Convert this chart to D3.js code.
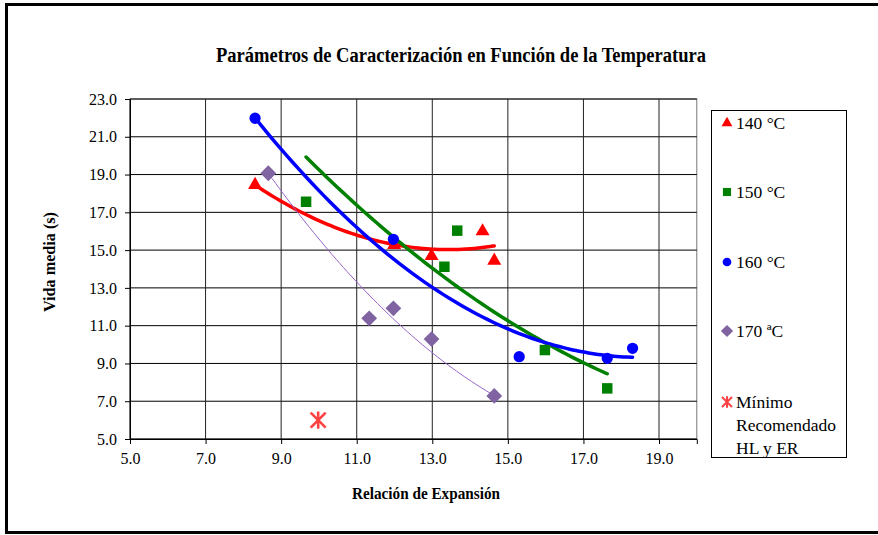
<!DOCTYPE html>
<html>
<head>
<meta charset="utf-8">
<script src="https://cdn.jsdelivr.net/npm/d3@7"></script>
<style>
  html, body { margin: 0; padding: 0; background: #fff; }
  svg { display: block; }
  svg text { font-family: "Liberation Serif", "Times New Roman", Times, serif; fill: #000; }
</style>
</head>
<body>
<svg id="chart" width="878" height="535"></svg>
<script>
// Series: expansion ratio (x) vs. half-life in seconds (y)
const serie140X = [8.31, 11.99, 12.98, 14.33, 14.64];
const serie140Y = [18.45, 15.27, 14.69, 16.0, 14.44];
const serie150X = [9.66, 13.32, 13.66, 15.98, 17.63];
const serie150Y = [17.56, 14.12, 16.03, 9.71, 7.68];
const serie160X = [8.31, 11.97, 15.30, 17.63, 18.30];
const serie160Y = [21.98, 15.57, 9.36, 9.27, 9.80];
const serie170X = [8.66, 11.33, 11.97, 12.98, 14.64];
const serie170Y = [19.07, 11.39, 11.92, 10.29, 7.28];
const minimoX = [9.98];
const minimoY = [6.0];

// Second-order trendline coefficients [x², x, 1]
const trend140 = [0.131, -3.516, 38.62];
const trend150 = [0.0697, -3.342, 45.71];
const trend160 = [0.1216, -4.504, 51.03];
const trend170 = [0.1357, -5.130, 53.32];

const xTicks = [5, 7, 9, 11, 13, 15, 17, 19];
const yTicks = [5, 7, 9, 11, 13, 15, 17, 19, 21, 23];
const legendLabels = ["140 °C", "150 °C", "160 °C", "170 ªC"];
const legendMinimo = ["Mínimo", "Recomendado", "HL y ER"];

const SERIF = "Liberation Serif, Times New Roman, serif";
const svg = d3.select("#chart");

// Outer frame
svg.append("rect")
  .attr("x", 6.5).attr("y", 4.5).attr("width", 920).attr("height", 528)
  .attr("fill", "#fff").attr("stroke", "#000").attr("stroke-width", 3);

const x = d3.scaleLinear().domain([5, 20]).range([130, 696.8]);
const y = d3.scaleLinear().domain([5, 23]).range([439, 99]);

// Title
svg.append("text")
  .attr("x", 461).attr("y", 62)
  .attr("text-anchor", "middle")
  .attr("font-family", SERIF)
  .attr("font-size", 20).attr("font-weight", "bold")
  .attr("textLength", 490).attr("lengthAdjust", "spacingAndGlyphs")
  .text("Parámetros de Caracterización en Función de la Temperatura");

// Plot area + grid
const plot = svg.append("g");
plot.append("rect")
  .attr("x", x(5)).attr("y", y(23))
  .attr("width", x(20) - x(5)).attr("height", y(5) - y(23))
  .attr("fill", "#fff").attr("stroke", "#777").attr("stroke-width", 1);

plot.selectAll("line.hgrid").data(yTicks).join("line")
  .attr("class", "hgrid")
  .attr("x1", x(5)).attr("x2", x(20))
  .attr("y1", d => y(d)).attr("y2", d => y(d))
  .attr("stroke", "#000").attr("stroke-width", 1);

plot.selectAll("line.vgrid").data(xTicks).join("line")
  .attr("class", "vgrid")
  .attr("x1", d => x(d)).attr("x2", d => x(d))
  .attr("y1", y(5)).attr("y2", y(23))
  .attr("stroke", "#222").attr("stroke-width", 1);

// Axes
const xAxis = d3.axisBottom(x).tickValues(xTicks).tickFormat(d3.format(".1f"))
  .tickSize(5).tickPadding(9);
const yAxis = d3.axisLeft(y).tickValues(yTicks).tickFormat(d3.format(".1f"))
  .tickSize(5).tickPadding(8);

const gx = svg.append("g").attr("transform", `translate(0,${y(5)})`).call(xAxis);
const gy = svg.append("g").attr("transform", `translate(${x(5)},0)`).call(yAxis);
[gx, gy].forEach(g => {
  g.attr("font-family", SERIF).attr("font-size", 16);
  g.select(".domain").attr("stroke", "#000");
  g.selectAll(".tick line").attr("stroke", "#000");
  g.selectAll(".tick text")
    .attr("font-family", SERIF)
    .attr("font-size", 16).attr("fill", "#000");
});

// Axis titles
svg.append("text")
  .attr("x", 426).attr("y", 499)
  .attr("text-anchor", "middle")
  .attr("font-family", SERIF)
  .attr("font-size", 16).attr("font-weight", "bold")
  .attr("textLength", 148).attr("lengthAdjust", "spacingAndGlyphs")
  .text("Relación de Expansión");
svg.append("text")
  .attr("transform", "translate(55,262) rotate(-90)")
  .attr("text-anchor", "middle")
  .attr("font-family", SERIF)
  .attr("font-size", 16).attr("font-weight", "bold")
  .attr("textLength", 100).attr("lengthAdjust", "spacingAndGlyphs")
  .text("Vida media (s)");

// Trendlines
function trendPath(coef, xs, color, width) {
  const [a, b, c] = coef;
  const [x0, x1] = d3.extent(xs);
  const pts = d3.range(0, 61).map(i => {
    const xv = x0 + (x1 - x0) * i / 60;
    return [xv, a * xv * xv + b * xv + c];
  });
  svg.append("path")
    .datum(pts)
    .attr("fill", "none")
    .attr("stroke", color)
    .attr("stroke-width", width)
    .attr("stroke-linecap", "round")
    .attr("d", d3.line().x(d => x(d[0])).y(d => y(d[1])).curve(d3.curveMonotoneX));
}

// Diamond drawn as a square rotated by 45°
const diamondSymbol = {
  draw(ctx, size) {
    const r = Math.sqrt(size / 2);
    ctx.moveTo(0, -r); ctx.lineTo(r, 0); ctx.lineTo(0, r); ctx.lineTo(-r, 0); ctx.closePath();
  }
};

const series = [
  { xs: serie140X, ys: serie140Y, color: "#ff0000", symbol: d3.symbolTriangle, size: 85, trend: trend140, tw: 3.5 },
  { xs: serie150X, ys: serie150Y, color: "#008000", symbol: d3.symbolSquare, size: 110, trend: trend150, tw: 3.5 },
  { xs: serie160X, ys: serie160Y, color: "#0000ff", symbol: d3.symbolCircle, size: 100, trend: trend160, tw: 3.5 },
  { xs: serie170X, ys: serie170Y, color: "#8064a2", symbol: diamondSymbol, size: 125, trend: trend170, tw: 1 }
];
const trendColors = ["#ff0000", "#008000", "#0000ff", "#9966cc"];

series.forEach((s, i) => trendPath(s.trend, s.xs, trendColors[i], s.tw));

// Markers
series.forEach(s => {
  svg.append("g").selectAll("path")
    .data(s.xs.map((xv, i) => [xv, s.ys[i]]))
    .join("path")
    .attr("transform", d => `translate(${x(d[0])},${y(d[1])})`)
    .attr("d", d3.symbol().type(s.symbol).size(s.size))
    .attr("fill", s.color);
});

// Asterisk marker for the recommended minimum
function asterisk(g, cx, cy, r, sw) {
  const a = g.append("g").attr("transform", `translate(${cx},${cy})`)
    .attr("stroke", "#ff2020").attr("stroke-width", sw).attr("opacity", 0.85);
  a.append("line").attr("x1", -r).attr("y1", -r).attr("x2", r).attr("y2", r);
  a.append("line").attr("x1", -r).attr("y1", r).attr("x2", r).attr("y2", -r);
  a.append("line").attr("x1", 0).attr("y1", -r * 1.15).attr("x2", 0).attr("y2", r * 1.15);
}
const gMin = svg.append("g");
minimoX.forEach((xv, i) => asterisk(gMin, x(xv), y(minimoY[i]), 7.5, 2.6));

// Legend
const lg = svg.append("g");
lg.append("rect")
  .attr("x", 711.5).attr("y", 110.5).attr("width", 135).attr("height", 347)
  .attr("fill", "#fff").attr("stroke", "#000").attr("stroke-width", 1);

const legendY = [123, 192, 262, 331];
series.forEach((s, i) => {
  lg.append("path")
    .attr("transform", `translate(727,${legendY[i]})`)
    .attr("d", d3.symbol().type(s.symbol).size(s.size * 0.6))
    .attr("fill", s.color);
  lg.append("text")
    .attr("x", 736).attr("y", legendY[i] + 6)
    .attr("font-family", SERIF)
    .attr("font-size", 17.5)
    .text(legendLabels[i]);
});
asterisk(lg, 727, 402, 5, 2);
legendMinimo.forEach((t, i) => {
  lg.append("text")
    .attr("x", 736).attr("y", 408 + i * 23)
    .attr("font-family", SERIF)
    .attr("font-size", 17.5)
    .text(t);
});
</script>
</body>
</html>
